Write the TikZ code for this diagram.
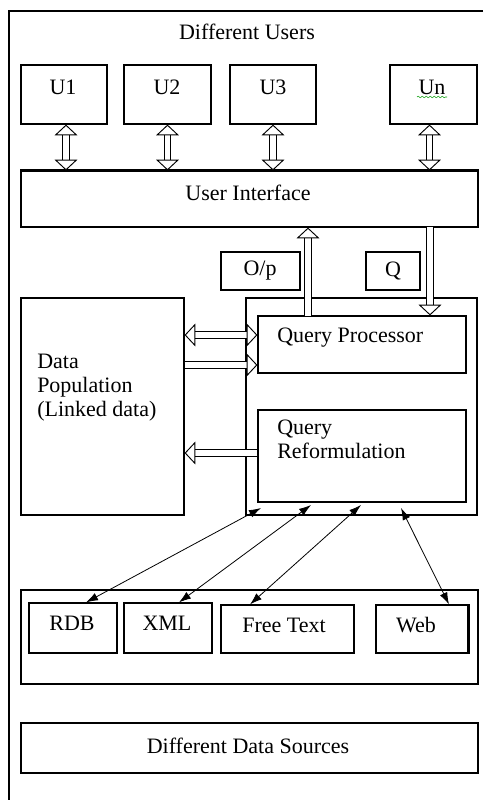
\documentclass[tikz,border=0pt]{standalone}
\usepackage{fontspec}
\setmainfont{Liberation Serif}
\usetikzlibrary{arrows.meta,fit,decorations.pathmorphing}

\begin{document}
\begin{tikzpicture}[x=0.75pt,y=-0.75pt,
  box/.style={draw, line width=0.9pt, inner sep=0pt, fit={#1}},
  lbl/.style={font=\fontsize{16.5}{18}\selectfont, inner sep=0pt},
  hollow/.style={double, double distance=4pt, line width=0.7pt,
    ->, >={Triangle[width=17pt,length=8pt,fill=white,line width=0.7pt]}},
  hollowboth/.style={hollow, <->},
  wire/.style={line width=0.6pt, <->, >={Latex[length=9pt,width=6pt]}}]

\useasboundingbox (0,0) rectangle (483,800);

% frame around the whole system
\draw[line width=0.9pt] (483,11) -- (9,11) -- (9,800);
\node[lbl] (title) at (247,32) {Different Users};

% users
\node[box={(21,65) (107,124)}] (u1) {};
\node[box={(124,65) (211,124)}] (u2) {};
\node[box={(230,65) (316,124)}] (u3) {};
\node[box={(390,65) (477,124)}] (un) {};
\node[lbl] at (63,87) {U1};
\node[lbl] at (167,87) {U2};
\node[lbl] at (273,87) {U3};
\node[lbl] (untext) at (432,87) {Un};
\draw[green!60!black, line width=0.4pt, decorate,
      decoration={snake, amplitude=0.6pt, segment length=3pt}] (417,97) -- (447,97);

% user interface
\node[box={(21,171) (478,227)}] (ui) {};
\draw[line width=1.6pt] (ui.north west) -- (ui.north east);
\node[lbl] at (248,193) {User Interface};

\draw[hollowboth] ([xshift=1.5pt]u1.south) -- ([xshift=1.5pt]u1.south |- ui.north);
\draw[hollowboth] (u2.south) -- (u2.south |- ui.north);
\draw[hollowboth] (u3.south) -- (u3.south |- ui.north);
\draw[hollowboth] ([xshift=-3pt]un.south) -- ([xshift=-3pt]un.south |- ui.north);

% output / query labels
\node[box={(221,252) (300,290)}] (op) {};
\node[lbl] at (260,271) {O/p};
\node[box={(366,252) (420,290)}] (q) {};
\node[lbl] at (393,271) {Q};

% data population
\node[box={(21,298) (184,515)}] (dp) {};
\node[lbl, anchor=north west, align=left] at (37,354)
  {Data\\Population\\(Linked data)};

% query engine
\node[box={(246,298) (477,515)}] (qe) {};
\node[box={(258,316) (466,373)}] (qp) {};
\node[lbl, anchor=west] at (277,338) {Query Processor};
\node[box={(258,410) (466,502)}] (qr) {};
\node[lbl, anchor=north west, align=left] at (277,420) {Query\\Reformulation};

\coordinate (outfoot) at (308,316);
\coordinate (qhead) at (430,227);
\draw[hollow] (outfoot) -- (outfoot |- ui.south);
\draw[hollow] (qhead) -- (qhead |- qp.north);

\draw[hollowboth] (dp.east |- 0,335) -- (qp.west |- 0,335);
\draw[hollow] (dp.east |- 0,365) -- (qp.west |- 0,365);
\draw[hollow] (qr.west |- 0,453) -- (dp.east |- 0,453);

% data sources
\node[box={(21,590) (478,684)}] (ds) {};
\node[box={(29,603) (117,653)}] (rdb) {};
\node[lbl] at (72,623) {RDB};
\node[box={(124,603) (212,653)}] (xml) {};
\node[lbl] at (167,623) {XML};
\node[box={(221,605) (354,653)}] (ft) {};
\node[lbl] at (284,625) {Free Text};
\node[box={(376,605) (468,653)}] (web) {};
\draw[line width=1.6pt] (web.north east) -- (web.south east);
\node[lbl] at (416,625) {Web};

\coordinate (r1) at (261,508);
\coordinate (r2) at (311,505);
\coordinate (r3) at (361,505);
\coordinate (r4) at (401,508);
\draw[wire] (r1) -- (rdb.north -| 86,0);
\draw[wire] (r2) -- (xml.north -| 179,0);
\draw[wire] (r3) -- (ft.north -| 250,0);
\draw[wire] (r4) -- (web.north -| 449,0);

\node[box={(21,723) (478,773)}] (dds) {};
\node[lbl] at (248,746) {Different Data Sources};
\end{tikzpicture}
\end{document}
